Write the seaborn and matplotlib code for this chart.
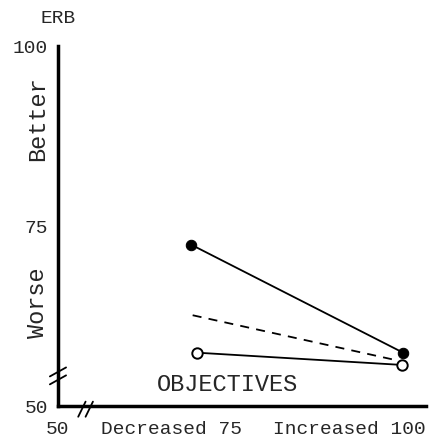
import matplotlib
matplotlib.use('Agg')
import matplotlib.pyplot as plt
import seaborn as sns
import pandas as pd

# values
x_filled = [68.1, 96.9]
y_filled = [72.4, 57.4]
x_open = [68.9, 96.7]
y_open = [57.4, 55.7]
x_dash = [68.3, 96.2]
y_dash = [62.6, 56.3]

xticks = [50, 75, 100]
xtick_labels = ['50', 'Decreased 75', 'Increased 100']
yticks = [50, 75, 100]
ytick_labels = ['50', '75', '100']

sns.set_style('white')
plt.rcParams['font.family'] = ['Liberation Mono', 'DejaVu Sans Mono']

fig = plt.figure(figsize=(4.46, 4.39), dpi=100)
ax = fig.add_axes([0.130, 0.073, 0.825, 0.820])

sns.lineplot(x=x_filled, y=y_filled, ax=ax, color='black', lw=1.3,
             marker='o', markersize=7.5, markerfacecolor='black', markeredgecolor='black')
sns.lineplot(x=x_open, y=y_open, ax=ax, color='black', lw=1.3,
             marker='o', markersize=7.5, markerfacecolor='white', markeredgecolor='black',
             markeredgewidth=1.4)
sns.lineplot(x=x_dash, y=y_dash, ax=ax, color='black', lw=1.3, linestyle=(0, (5, 4)))

ax.set_xlim(50, 100)
ax.set_ylim(50, 100)
for s in ['top', 'right']:
    ax.spines[s].set_visible(False)
for s in ['left', 'bottom']:
    ax.spines[s].set_linewidth(2.5)
    ax.spines[s].set_color('black')

ax.set_xticks(xticks)
ax.set_xticklabels(xtick_labels, fontsize=14)
ax.set_yticks(yticks)
ax.set_yticklabels(ytick_labels, fontsize=14)
ax.tick_params(axis='x', direction='in', length=4, width=1.2, pad=10)
ax.tick_params(axis='y', direction='in', length=4, width=1.2, pad=7)
labs = ax.get_xticklabels()
labs[0].set_ha('center')
labs[1].set_ha('right')
labs[2].set_ha('right')

ax.text(0.0, 1.08, 'ERB', transform=ax.transAxes, fontsize=14, ha='center', va='center')
ax.text(-0.055, 0.80, 'Better', transform=ax.transAxes, fontsize=17, rotation=90,
        ha='center', va='center')
ax.text(-0.055, 0.29, 'Worse', transform=ax.transAxes, fontsize=17, rotation=90,
        ha='center', va='center')
ax.text(0.46, 0.061, 'OBJECTIVES', transform=ax.transAxes, fontsize=17,
        ha='center', va='center')

# axis break marks
for dy in (0.0, 0.022):
    ax.plot([-0.022, 0.022], [0.06 + dy, 0.085 + dy], transform=ax.transAxes,
            color='black', lw=1.3, clip_on=False)
for dx in (0.0, 0.02):
    ax.plot([0.055 + dx, 0.075 + dx], [-0.03, 0.012], transform=ax.transAxes,
            color='black', lw=1.3, clip_on=False)

fig.savefig('out.png', dpi=100)
